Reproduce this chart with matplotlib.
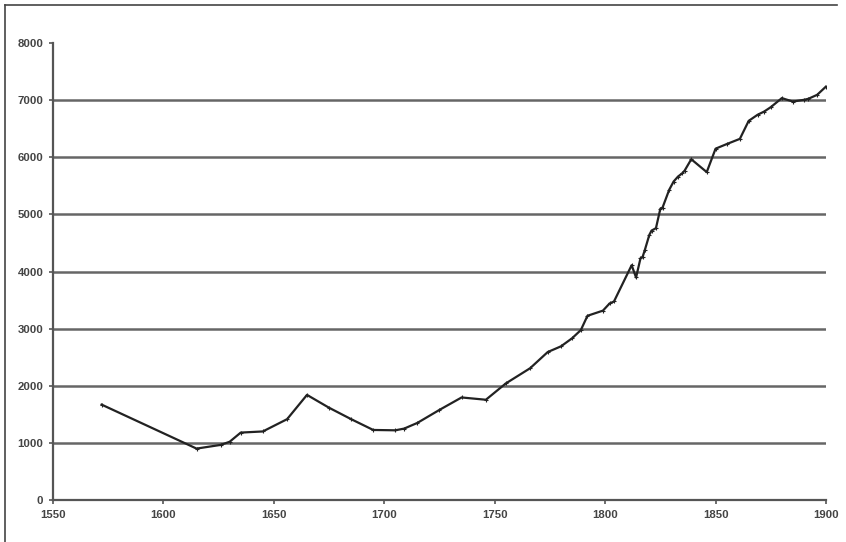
import matplotlib.pyplot as plt
from matplotlib.lines import Line2D

# values
years = [1572, 1615, 1626, 1630, 1635, 1645, 1656, 1665, 1675, 1685, 1695,
         1705, 1709, 1715, 1725, 1735, 1746, 1755, 1766, 1774, 1780, 1785,
         1789, 1792, 1799, 1802, 1804, 1812, 1814, 1816, 1817, 1818, 1820,
         1821, 1823, 1825, 1826, 1829, 1831, 1833, 1835, 1836, 1839, 1846,
         1850, 1855, 1861, 1865, 1869, 1872, 1875, 1880, 1885, 1890, 1892,
         1896, 1900]
values = [1670, 900, 965, 1020, 1180, 1200, 1415, 1840, 1615, 1415, 1226,
          1220, 1250, 1350, 1578, 1795, 1755, 2040, 2306, 2590, 2690, 2830,
          2975, 3225, 3315, 3440, 3475, 4110, 3895, 4230, 4260, 4380, 4640,
          4716, 4758, 5100, 5120, 5430, 5575, 5662, 5722, 5767, 5965, 5740,
          6150, 6230, 6322, 6637, 6743, 6800, 6877, 7035, 6975, 7005, 7023,
          7093, 7238]

x_ticks = [1550, 1600, 1650, 1700, 1750, 1800, 1850, 1900]
y_ticks = [0, 1000, 2000, 3000, 4000, 5000, 6000, 7000, 8000]

fig = plt.figure(figsize=(8.46, 5.42), dpi=100)
ax = fig.add_axes([53 / 846, 42 / 542, 773 / 846, 457 / 542])

axis_col = "#555555"
for y in y_ticks[1:-1]:
    ax.plot([1550, 1900], [y, y], color="#666666", lw=1.8, zorder=1,
            solid_capstyle="butt")

ax.plot(years, values, color="#222222", lw=1.6, marker="+", ms=2.5,
        mew=0.8, zorder=3)

ax.set_xlim(1550, 1900)
ax.set_ylim(0, 8000)
ax.set_xticks(x_ticks)
ax.set_yticks(y_ticks)
ax.spines["top"].set_visible(False)
ax.spines["right"].set_visible(False)
for s in ["left", "bottom"]:
    ax.spines[s].set_color(axis_col)
    ax.spines[s].set_linewidth(1.6)
ax.tick_params(direction="out", length=3, width=1.2, color=axis_col,
               labelsize=8.2, labelcolor="#444444", pad=4)
for lab in ax.get_xticklabels() + ax.get_yticklabels():
    lab.set_fontweight("bold")
    lab.set_fontfamily("Liberation Sans")

# outer frame of the picture (left and top edges)
fig.add_artist(Line2D([5 / 846, 5 / 846], [0, 1 - 5 / 542],
                      transform=fig.transFigure, color="#444444", lw=1.2))
fig.add_artist(Line2D([5 / 846, 837 / 846], [1 - 5 / 542, 1 - 5 / 542],
                      transform=fig.transFigure, color="#444444", lw=1.2))

fig.savefig("out.png", dpi=100)
plt.close(fig)
